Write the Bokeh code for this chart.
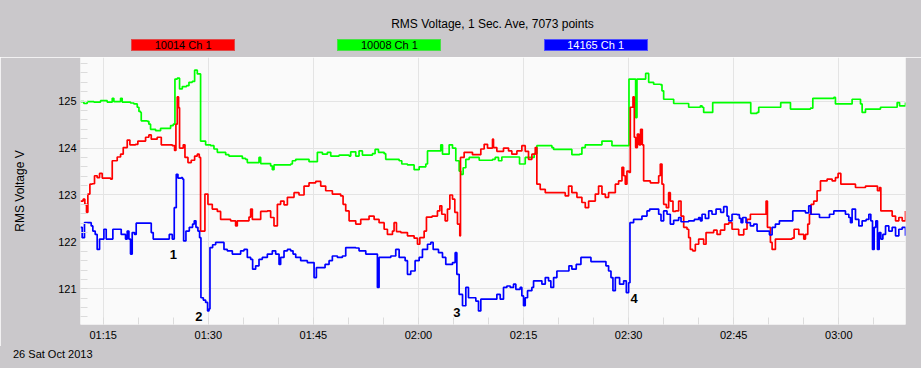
from bokeh.plotting import figure
from bokeh.layouts import column
from bokeh.models import SingleIntervalTicker, ColumnDataSource, Div
from bokeh.core.properties import value
from bokeh.embed import file_html
from bokeh.resources import INLINE

# ---------------- data (time = minutes after midnight, value = RMS volts) ----------------
TITLE = "RMS Voltage, 1 Sec. Ave, 7073 points"
SERIES_NAMES = ["10014 Ch 1", "10008 Ch 1", "14165 Ch 1"]
DATE_TEXT = "26 Sat Oct 2013"
Y_LABEL = "RMS Voltage V"

TICK_MIN = [75, 90, 105, 120, 135, 150, 165, 180]
TICK_LBL = ["01:15", "01:30", "01:45", "02:00", "02:15", "02:30", "02:45", "03:00"]

T_START = 71.76
T_END = 189.52
V_MIN = 120.24
V_MAX = 125.93

GREEN = [(71.76,124.99),(72.24,124.95),(72.71,124.99),(73.67,124.98),(74.62,125.01),(75.57,124.98),(76.29,125.06),(76.52,124.99),(77.48,125.06),(77.71,124.98),(78.9,124.96),(79.38,124.94),(79.86,124.87),(80.1,124.78),(80.33,124.76),(80.43,124.58),(81.29,124.57),(81.52,124.51),(81.76,124.40),(82.48,124.37),(83.19,124.42),(84.38,124.42),(84.62,124.48),(85.0,124.51),(85.24,125.47),(85.57,125.49),(85.9,125.26),(86.29,125.31),(86.9,125.33),(87.24,125.40),(87.71,125.42),(88.05,125.66),(88.43,125.58),(88.67,125.58),(88.9,124.15),(89.62,124.07),(90.33,124.05),(90.81,123.98),(91.29,123.91),(92.24,123.91),(92.48,123.86),(92.95,123.83),(94.52,123.83),(94.86,123.78),(95.33,123.76),(95.57,123.69),(97.0,123.69),(97.24,123.80),(97.48,123.67),(98.9,123.62),(99.14,123.54),(99.38,123.64),(101.76,123.66),
(102.0,123.73),(102.48,123.76),(103.9,123.76),(104.38,123.71),(105.33,123.71),(105.57,123.91),(106.29,123.87),(107.0,123.91),(107.48,123.83),(108.67,123.85),(110.1,123.83),(110.33,123.92),(111.05,123.83),(111.52,123.94),(112.0,123.85),(113.43,123.88),(113.81,123.97),(114.29,123.91),(115.1,123.88),(115.33,123.76),(117.24,123.73),(117.62,123.66),(118.43,123.64),(119.38,123.54),(120.1,123.60),(121.05,123.66),(121.29,123.94),(122.95,123.94),(123.19,124.07),(123.43,123.87),(124.14,123.87),(124.38,124.07),(124.86,124.00),(125.33,123.73),(125.81,123.51),(126.05,123.44),(126.38,123.58),(126.76,123.76),(127.24,123.80),(128.67,123.74),(130.57,123.76),
(130.95,123.80),(131.43,123.73),(131.9,123.81),(134.05,123.81),(134.43,123.66),(135.0,123.66),(135.24,123.80),(136.19,123.80),(136.52,123.88),(136.9,124.05),(139.05,124.01),(139.29,123.97),(141.43,123.97),(141.9,123.86),(143.0,123.87),(143.33,124.01),(143.81,124.07),(145.95,124.07),(146.19,124.15),(147.38,124.15),(147.62,124.05),(149.86,124.05),(150.05,125.47),(150.81,125.47),(151.0,124.65),(151.19,125.47),(152.14,125.47),(152.43,125.59),(152.86,125.40),(153.57,125.36),(154.52,125.35),(154.76,125.22),(155.0,125.04),(156.19,125.04),(156.43,124.95),(158.33,124.95),(158.57,124.87),(160.24,124.90),
(160.48,124.87),(160.71,124.76),(161.67,124.76),(162.0,124.97),(164.29,124.97),(167.14,124.97),(167.43,124.74),(168.33,124.76),(168.57,124.87),(171.43,124.87),(171.71,124.97),(172.86,124.97),(173.1,124.83),(175.95,124.85),(176.29,125.06),(179.29,125.08),(179.52,124.94),(181.67,124.94),(181.9,125.04),(183.1,124.94),(183.33,124.76),(183.81,124.83),(185.71,124.83),(185.95,124.87),(188.1,124.87),(188.33,124.97),(188.67,124.90),(189.52,124.97)]

RED = [(71.76,122.87),(72.14,122.91),(72.38,122.80),(72.62,122.63),(72.81,123.02),(73.1,123.23),(73.43,123.24),(73.76,123.41),(74.14,123.37),(74.48,123.46),(74.86,123.36),(76.05,123.34),(76.29,123.73),(77.0,123.81),(77.48,123.87),(77.86,124.01),(78.43,124.17),(78.81,124.07),(79.62,124.08),(79.95,124.15),(80.57,124.15),(81.05,124.23),(81.52,124.28),(81.86,124.19),(82.71,124.23),(83.29,124.07),(84.86,124.05),(85.19,123.95),(85.38,124.51),(85.57,125.09),(85.76,124.86),(85.9,124.0),(86.43,124.07),(86.67,123.80),(87.1,123.69),(87.57,123.74),(88.05,123.83),(88.43,123.87),(88.71,123.80),(88.9,122.23),(89.38,122.23),(89.52,123.02),(89.95,122.80),(90.57,122.70),(91.29,122.65),(91.76,122.48),(93.19,122.45),(93.9,122.34),(94.14,122.45),(95.57,122.45),(95.81,122.53),(96.05,122.70),(96.29,122.48),(97.0,122.48),(97.48,122.65),(98.43,122.66),(98.9,122.52),(99.38,122.34),(99.86,122.80),(100.33,122.87),(100.81,122.79),(101.29,122.95),
(101.76,122.95),(102.24,123.05),(102.95,123.0),(103.67,123.19),(104.38,123.26),(105.33,123.29),(106.05,123.19),(106.76,123.09),(107.71,123.02),(108.9,122.98),(109.24,122.80),(109.62,122.66),(110.1,122.45),(111.05,122.38),(111.76,122.48),(112.95,122.55),(113.67,122.48),(114.38,122.41),(115.1,122.27),(115.57,122.16),(116.29,122.23),(116.52,122.41),(116.86,122.22),(117.48,122.20),(118.43,122.13),(119.38,122.08),(119.86,121.95),(120.19,122.09),(120.81,122.23),(121.14,122.53),(121.95,122.55),(122.71,122.66),(123.05,122.77),(123.33,122.59),(123.81,122.45),(124.14,122.70),(124.48,123.0),(124.86,122.91),(125.19,122.63),(125.57,122.38),(125.9,122.13),(126.0,123.80),(126.52,123.91),(127.71,123.86),(128.9,123.98),(129.38,124.08),(129.86,124.0),(130.57,124.19),
(130.71,124.01),(131.19,123.93),(132.14,124.0),(132.86,123.94),(133.33,123.87),(134.05,123.94),(134.76,124.05),(135.24,123.93),(135.71,123.76),(136.19,123.87),(136.67,124.01),(136.9,123.23),(137.38,123.12),(138.1,123.05),(139.76,123.05),(140.95,122.98),(141.43,123.19),(141.9,123.05),(142.62,122.95),(143.33,122.84),(143.81,122.73),(144.29,122.87),(145.24,123.02),(145.71,123.19),(146.19,123.02),(146.67,122.95),(147.14,123.05),(148.1,123.23),(148.57,123.30),(149.05,123.59),(149.29,123.41),(149.52,123.23),(149.76,123.51),(150.05,123.48),(150.24,124.87),(150.62,125.09),(150.81,124.23),(151.0,124.01),(151.24,124.30),(151.48,124.07),(151.71,124.40),(151.95,124.07),(152.14,123.30),(153.1,123.26),(154.05,123.26),(154.29,123.41),(154.52,123.66),(154.76,123.23),(155.0,122.80),(155.38,122.73),(155.71,123.05),(155.95,122.87),(156.33,122.65),(156.71,122.66),(157.14,122.87),(157.48,122.55),(157.86,122.31),(158.33,122.27),(158.57,122.09),(158.81,121.84),(159.14,121.81),(159.52,121.95),(160.0,122.06),
(160.24,122.06),(160.71,121.95),(161.05,122.20),(161.67,122.20),(162.14,122.25),(162.62,122.16),(163.1,122.25),(163.71,122.38),(164.29,122.41),(164.76,122.27),(165.71,122.15),(166.43,122.27),(166.9,122.48),(167.38,122.59),(169.05,122.59),(169.43,122.59),(169.62,122.87),(169.81,122.31),(170.24,121.99),(170.48,121.84),(170.95,122.06),(172.14,122.06),(173.33,122.08),(173.62,122.27),(174.29,122.16),(175.0,122.06),(175.24,122.16),(175.57,122.38),(175.81,122.59),(176.05,122.80),(176.43,122.87),(176.9,123.09),(177.38,123.30),(178.33,123.34),(179.05,123.30),(179.52,123.37),(179.9,123.46),(180.29,123.23),(181.9,123.23),(182.38,123.16),(183.81,123.19),(185.24,123.19),(185.52,123.09),(185.81,123.16),(186.0,122.66),(187.14,122.66),(187.62,122.55),(188.1,122.45),(188.57,122.52),(189.05,122.45),(189.52,122.66)]

BLUE = [(71.76,122.31),(72.0,122.09),(72.33,122.41),(72.95,122.41),(73.29,122.34),(73.52,122.23),(73.86,122.16),(74.14,121.84),(74.48,122.06),(74.86,122.06),(75.1,122.27),(75.43,122.06),(76.05,122.06),(76.38,122.27),(77.24,122.27),(77.57,122.16),(78.19,122.06),(78.43,122.23),(78.67,122.06),(78.9,121.74),(79.14,122.20),(79.48,122.16),(79.71,122.40),(81.52,122.40),(81.86,122.20),(82.14,122.06),(84.14,122.06),(84.43,122.16),(84.86,122.06),(85.14,122.73),(85.43,123.44),(85.67,123.36),(86.14,123.37),(86.33,123.34),(86.48,122.02),(86.81,122.23),(87.29,122.31),(87.76,122.38),(88.0,122.45),(88.24,122.31),(88.52,122.23),(88.76,122.09),(88.95,120.81),(89.29,120.76),(89.62,120.71),(89.9,120.53),(90.1,120.57),(90.24,121.88),(90.62,121.94),(91.05,121.99),(91.76,121.99),(92.24,121.84),(92.71,121.81),(93.43,121.74),(94.14,121.74),(94.62,121.81),(95.1,121.84),(95.57,121.67),(96.05,121.63),(96.33,121.42),(96.76,121.49),(97.24,121.63),(97.71,121.67),(98.43,121.74),(99.14,121.81),(99.62,121.74),(100.1,121.52),(100.33,121.67),(100.81,121.81),(101.29,121.84),
(101.76,121.81),(102.1,121.74),(102.48,121.67),(103.19,121.60),(104.14,121.56),(104.86,121.56),(105.1,121.24),(105.43,121.45),(106.29,121.45),(106.67,121.52),(107.24,121.60),(107.71,121.70),(108.43,121.67),(109.14,121.70),(109.62,121.88),(111.05,121.87),(111.52,121.81),(112.48,121.74),(113.9,121.74),(114.14,121.03),(114.38,121.67),(115.33,121.67),(116.05,121.70),(116.76,121.84),(117.24,121.67),(118.1,121.60),(118.43,121.31),(118.9,121.38),(119.52,121.60),(120.1,121.67),(120.57,121.84),(121.29,121.95),(121.76,121.99),(122.1,121.84),(122.86,121.77),(123.43,121.67),(123.9,121.52),(124.86,121.56),(125.24,121.77),(125.48,121.31),(125.81,120.88),(126.29,120.64),(126.76,121.03),(127.14,120.81),(127.71,120.81),(128.19,120.74),(128.57,120.53),(128.9,120.78),(130.1,120.78),
(130.71,120.78),(131.19,120.88),(131.67,120.78),(132.14,121.03),(132.62,121.06),(133.1,121.03),(133.57,121.10),(133.9,120.99),(134.52,121.03),(134.76,120.85),(135.0,120.64),(135.24,120.81),(135.57,120.96),(136.19,121.03),(136.43,121.17),(137.38,121.17),(137.62,121.10),(138.1,121.24),(138.57,121.17),(138.9,121.03),(139.29,121.24),(139.76,121.38),(141.19,121.38),(141.48,121.49),(141.9,121.42),(142.52,121.52),(143.19,121.67),(144.29,121.67),(144.62,121.58),(146.43,121.58),(146.76,121.49),(147.14,121.38),(147.48,121.24),(147.76,120.96),(148.1,121.24),(148.71,121.10),(149.29,121.17),(149.67,120.92),(150.0,121.13),(150.19,122.41),(150.71,122.48),(151.19,122.48),(151.9,122.55),(152.62,122.66),(153.0,122.70),(154.05,122.70),(154.29,122.59),(154.62,122.45),(155.0,122.66),(155.48,122.59),(155.95,122.38),(156.43,122.46),(157.14,122.52),(157.48,122.43),(158.57,122.45),(159.38,122.48),(160.0,122.52),
(160.24,122.45),(160.48,122.59),(160.95,122.50),(161.43,122.66),(161.9,122.59),(162.48,122.70),(162.86,122.70),(163.14,122.63),(163.57,122.75),(164.05,122.55),(164.29,122.45),(164.76,122.59),(165.48,122.58),(165.81,122.50),(166.05,122.41),(166.29,122.52),(166.76,122.41),(167.38,122.34),(167.86,122.38),(168.33,122.23),(169.76,122.23),(170.1,122.15),(170.48,122.31),(170.95,122.38),(171.52,122.45),(172.86,122.45),(173.43,122.66),(174.76,122.66),(175.24,122.62),(175.71,122.77),(176.0,122.59),(176.67,122.59),(177.24,122.52),(178.33,122.52),(178.67,122.59),(179.29,122.66),(180.48,122.66),(180.95,122.59),(181.43,122.52),(181.67,122.41),(181.9,122.70),(182.38,122.48),(182.86,122.34),(183.33,122.45),(183.9,122.48),(184.29,122.59),(184.57,122.45),(184.81,121.84),(185.05,122.31),(185.29,122.45),(185.52,121.84),(185.76,122.20),(186.0,122.06),(186.29,122.16),(186.67,122.34),(187.14,122.23),(187.62,122.31),(188.1,122.13),(188.57,122.27),(189.05,122.31),(189.52,122.13)]

EVENT_LBL = ["1", "2", "3", "4"]
EVENT_T = [85.0, 88.66, 125.47, 150.8]
EVENT_V = [121.74, 120.42, 120.49, 120.80]

# ---------------- layout / styling ----------------
FONT = "Liberation Sans"
BG = "#cac8cb"
COLORS = ["#ff0000", "#00ff00", "#0000ff"]
BORDERS = ["#e04848", "#48e048", "#5050ff"]
TEXT_COLORS = ["black", "black", "white"]

W = 921
HEAD_H = 57
FOOT_H = 22
LEFT = 80
RIGHT = 16
FRAME_W = W - LEFT - RIGHT
BOX_W = 104
BOX_H = 12

# ---- header: title + coloured series boxes (HTML) ----
parts = [f"<div style=\"position:relative;width:{W}px;height:{HEAD_H}px;background:{BG};"
         f"font-family:'{FONT}',Arial,sans-serif;color:black;overflow:hidden;\">",
         f"<div style=\"position:absolute;left:{LEFT}px;width:{FRAME_W}px;top:17px;"
         f"text-align:center;font-size:12px;line-height:14px;white-space:nowrap;\">{TITLE}</div>"]
for i, (name, fc, bc, tc) in enumerate(zip(SERIES_NAMES, COLORS, BORDERS, TEXT_COLORS)):
    cx = LEFT + FRAME_W * (i + 0.5) / 4
    parts.append(
        f"<div style=\"position:absolute;box-sizing:border-box;left:{cx - BOX_W / 2:.1f}px;top:39px;"
        f"width:{BOX_W}px;height:{BOX_H}px;background:{fc};border:1px solid {bc};color:{tc};"
        f"font-size:11px;line-height:10px;text-align:center;white-space:nowrap;\">{name}</div>")
parts.append("</div>")
head = Div(text="".join(parts), width=W, height=HEAD_H, margin=0)

# ---- main plot ----
p = figure(width=W, height=368 - HEAD_H - FOOT_H, x_range=(T_START, T_END), y_range=(V_MIN, V_MAX),
           toolbar_location=None, output_backend="svg",
           min_border_left=LEFT, min_border_right=RIGHT, min_border_top=0, min_border_bottom=44 - FOOT_H,
           background_fill_color="#fafafa", border_fill_color=BG, outline_line_color=None, margin=0)

p.xaxis.ticker = SingleIntervalTicker(interval=15, num_minor_ticks=3)
p.xaxis.major_label_overrides = {t: l for t, l in zip(TICK_MIN, TICK_LBL)}
p.yaxis.ticker = SingleIntervalTicker(interval=1, num_minor_ticks=5)
p.xgrid.ticker = p.xaxis.ticker
p.ygrid.ticker = p.yaxis.ticker
for ax in (p.xaxis[0], p.yaxis[0]):
    ax.axis_line_color = None
    ax.major_tick_in = 0
    ax.major_tick_out = 0
    ax.minor_tick_in = 7
    ax.minor_tick_out = 0
    ax.minor_tick_line_color = "#dcdcdc"
    ax.major_label_text_font = FONT
    ax.major_label_text_font_size = "11px"
    ax.major_label_text_color = "black"
p.xaxis.major_label_standoff = 4
p.yaxis.major_label_standoff = 4
p.yaxis.axis_label = Y_LABEL
p.yaxis.axis_label_text_font = FONT
p.yaxis.axis_label_text_font_size = "12px"
p.yaxis.axis_label_text_font_style = "normal"
p.yaxis.axis_label_text_color = "black"
p.yaxis.axis_label_standoff = 28
p.grid.grid_line_color = "#e4e4e4"
p.grid.grid_line_width = 1

for data, col in zip([GREEN, RED, BLUE], [COLORS[1], COLORS[0], COLORS[2]]):
    src = ColumnDataSource(dict(t=[d[0] for d in data], v=[d[1] for d in data]))
    p.step("t", "v", source=src, mode="after", line_color=col, line_width=1.7)

p.text(x=EVENT_T, y=EVENT_V, text=EVENT_LBL, text_font=value(FONT), text_font_style="bold",
       text_font_size="13px", text_align="center", text_baseline="middle", text_color="black")

# ---- footer: date (HTML) ----
foot = Div(text=(f"<div style=\"position:relative;width:{W}px;height:{FOOT_H}px;background:{BG};"
                 f"font-family:'{FONT}',Arial,sans-serif;color:black;\">"
                 f"<div style=\"position:absolute;left:13px;top:2px;font-size:11px;line-height:12px;"
                 f"white-space:nowrap;\">{DATE_TEXT}</div></div>"),
           width=W, height=FOOT_H, margin=0)

layout = column(head, p, foot, spacing=0, margin=0)
open("out.html", "w").write(file_html(layout, INLINE))
